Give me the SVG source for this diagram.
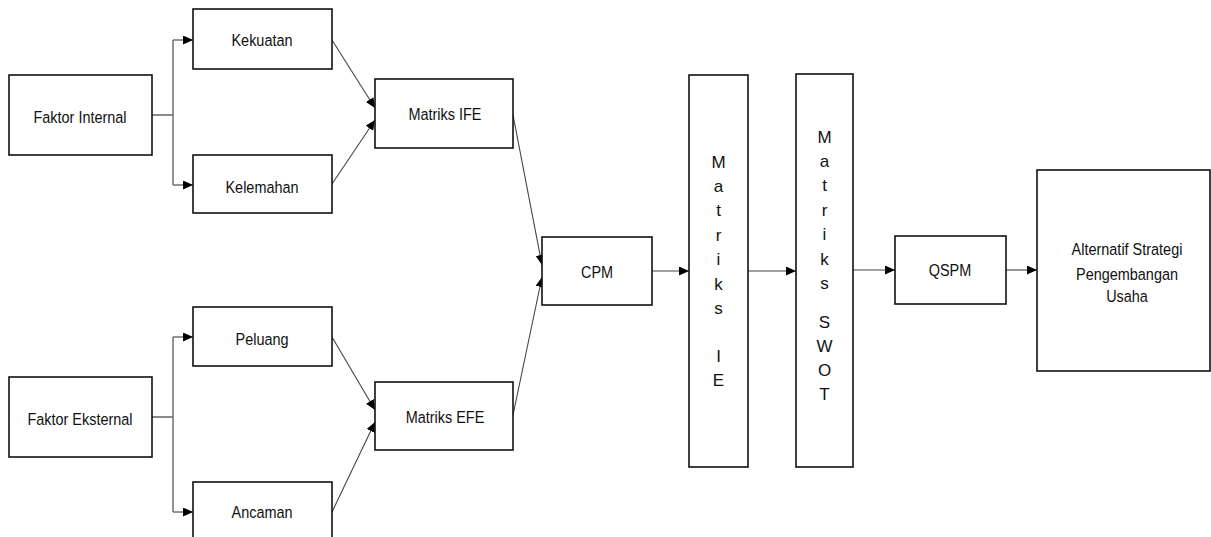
<svg xmlns="http://www.w3.org/2000/svg" width="1211" height="537" viewBox="0 0 1211 537">
<style>
.box{fill:#fff;stroke:#111;stroke-width:1.6}
.t{font-family:"Liberation Sans",Arial,sans-serif;font-size:17px;fill:#111;text-anchor:middle}
.c{fill:none;stroke:#444;stroke-width:1.1}
.g{fill:none;stroke:#666;stroke-width:1.4}
</style>
<defs>
<marker id="ah" markerUnits="userSpaceOnUse" markerWidth="11" markerHeight="10" refX="10" refY="4.5" orient="auto">
<path d="M0,0 L10,4.5 L0,9 z" fill="#000"/>
</marker>
</defs>
<rect width="1211" height="537" fill="#fff"/>
<g id="connectors">
<path class="g" d="M152,115 H173 M173,40 V185 M152,417 H173 M173,337 V512"/>
<path class="g" d="M173,40 H193" marker-end="url(#ah)"/>
<path class="g" d="M173,185 H193" marker-end="url(#ah)"/>
<path class="g" d="M173,337 H193" marker-end="url(#ah)"/>
<path class="g" d="M173,512 H193" marker-end="url(#ah)"/>
<path class="c" d="M332,40 L375,108" marker-end="url(#ah)"/>
<path class="c" d="M332,184 L375,120" marker-end="url(#ah)"/>
<path class="c" d="M332,337 L375,410" marker-end="url(#ah)"/>
<path class="c" d="M332,512 L375,422" marker-end="url(#ah)"/>
<path class="c" d="M513,115 L542,265" marker-end="url(#ah)"/>
<path class="c" d="M513,415 L542,277" marker-end="url(#ah)"/>
<path class="c" d="M652,271 H689" marker-end="url(#ah)"/>
<path class="c" d="M748,271 H796" marker-end="url(#ah)"/>
<path class="c" d="M853,270 H895" marker-end="url(#ah)"/>
<path class="c" d="M1006,270 H1037" marker-end="url(#ah)"/>
</g>
<g id="faktor-internal"><rect class="box" x="9" y="75" width="143" height="80"/><text class="t" transform="translate(80,123) scale(0.85,1)">Faktor Internal</text></g>
<g id="kekuatan"><rect class="box" x="193" y="9" width="139" height="60"/><text class="t" transform="translate(262,46) scale(0.85,1)">Kekuatan</text></g>
<g id="kelemahan"><rect class="box" x="193" y="155" width="139" height="58"/><text class="t" transform="translate(262,193) scale(0.85,1)">Kelemahan</text></g>
<g id="matriks-ife"><rect class="box" x="375" y="79" width="138" height="69"/><text class="t" transform="translate(445,120) scale(0.85,1)">Matriks IFE</text></g>
<g id="faktor-eksternal"><rect class="box" x="9" y="377" width="143" height="80"/><text class="t" transform="translate(80,425) scale(0.85,1)">Faktor Eksternal</text></g>
<g id="peluang"><rect class="box" x="193" y="307" width="139" height="59"/><text class="t" transform="translate(262,345) scale(0.85,1)">Peluang</text></g>
<g id="ancaman"><rect class="box" x="193" y="482" width="139" height="70"/><text class="t" transform="translate(262,518) scale(0.85,1)">Ancaman</text></g>
<g id="matriks-efe"><rect class="box" x="375" y="382" width="138" height="68"/><text class="t" transform="translate(445,423) scale(0.85,1)">Matriks EFE</text></g>
<g id="cpm"><rect class="box" x="542" y="237" width="110" height="68"/><text class="t" transform="translate(597,278) scale(0.85,1)">CPM</text></g>
<g id="matriks-ie"><rect class="box" x="689" y="75" width="59" height="392"/>
<text class="t" x="718.5" y="168">M</text><text class="t" x="718.5" y="192">a</text><text class="t" x="718.5" y="216">t</text><text class="t" x="718.5" y="241">r</text><text class="t" x="718.5" y="265">i</text><text class="t" x="718.5" y="290">k</text><text class="t" x="718.5" y="314">s</text><text class="t" x="718.5" y="362">I</text><text class="t" x="718.5" y="386">E</text></g>
<g id="matriks-swot"><rect class="box" x="796" y="74" width="57" height="393"/>
<text class="t" x="824.5" y="143">M</text><text class="t" x="824.5" y="167">a</text><text class="t" x="824.5" y="191">t</text><text class="t" x="824.5" y="216">r</text><text class="t" x="824.5" y="240">i</text><text class="t" x="824.5" y="265">k</text><text class="t" x="824.5" y="289">s</text><text class="t" x="824.5" y="328">S</text><text class="t" x="824.5" y="352">W</text><text class="t" x="824.5" y="376">O</text><text class="t" x="824.5" y="400">T</text></g>
<g id="qspm"><rect class="box" x="895" y="236" width="111" height="68"/><text class="t" transform="translate(950,276) scale(0.85,1)">QSPM</text></g>
<g id="alternatif"><rect class="box" x="1037" y="170" width="173" height="201"/>
<text class="t" transform="translate(1127,255) scale(0.85,1)">Alternatif Strategi</text>
<text class="t" transform="translate(1127,280) scale(0.85,1)">Pengembangan</text>
<text class="t" transform="translate(1127,302) scale(0.85,1)">Usaha</text></g>
</svg>
